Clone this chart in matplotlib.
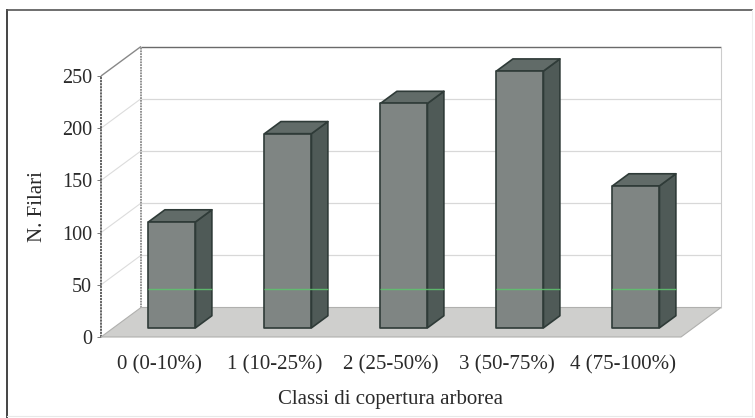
import matplotlib
matplotlib.use("Agg")
import matplotlib.pyplot as plt
from matplotlib.lines import Line2D

categories = ["0 (0-10%)", "1 (10-25%)", "2 (25-50%)", "3 (50-75%)", "4 (75-100%)"]
values = [101.5, 186, 215, 246, 136]
y_ticks = [0, 50, 100, 150, 200, 250]
x_title = "Classi di copertura arborea"
y_title = "N. Filari"

W, H = 755, 418
plt.rcParams["font.family"] = "Liberation Serif"
fig = plt.figure(figsize=(W / 100, H / 100), dpi=100, facecolor="white")
ax = fig.add_axes([101 / W, 1 - 337 / H, 580 / W, 261 / H])
ax.set_xlim(0, len(categories))
ax.set_ylim(0, 250)
ax.patch.set_visible(False)
for s in ax.spines.values():
    s.set_visible(False)

DX, DY = 40 / 116, 29.5 / 1.044   # oblique depth vector, in data units
n = len(categories)


def p(x, y, d=0.0):
    return x + d * DX, y + d * DY


def poly(pts, **kw):
    xs, ys = zip(*pts)
    ax.fill(xs, ys, clip_on=False, **kw)


def line(a, b, **kw):
    ax.plot([a[0], b[0]], [a[1], b[1]], clip_on=False, solid_capstyle="butt", **kw)


# walls and gridlines
for v in y_ticks[1:-1]:
    line(p(0, v), p(0, v, 1), color="#dcdcdc", lw=0.8, zorder=1)
    line(p(0, v, 1), p(n, v, 1), color="#d8d8d8", lw=0.9, zorder=1)
line(p(0, 250), p(0, 250, 1), color="#888888", lw=1.0, zorder=2)
line(p(0, 250, 1), p(n, 250, 1), color="#6a6a6a", lw=1.0, zorder=2)
line(p(n, 0, 1), p(n, 250, 1), color="#cccccc", lw=0.8, zorder=2)
line(p(0, 0), p(0, 250), color="#555555", lw=1.3, ls=(0, (1.2, 0.5)), zorder=2)
line(p(0, 0, 1), p(0, 250, 1), color="#777777", lw=1.1, ls=(0, (1.2, 0.6)), zorder=2)

# floor
poly([p(0, 0), p(n, 0), p(n, 0, 1), p(0, 0, 1)], facecolor="#cfcfcd",
     edgecolor="#b0b0ae", lw=0.8, zorder=3)

# bars
WIDTH = 47 / 116
D0, D1 = 0.31, 0.72
EDGE = "#2f3b38"
for i, v in enumerate(values):
    l = i + 0.5 - WIDTH / 2 + 0.005
    r = l + WIDTH
    kw = dict(edgecolor=EDGE, lw=1.2, zorder=4, joinstyle="round")
    poly([p(r, 0, D0), p(r, 0, D1), p(r, v, D1), p(r, v, D0)], facecolor="#4f5a57", **kw)
    poly([p(l, v, D0), p(r, v, D0), p(r, v, D1), p(l, v, D1)], facecolor="#616b68", **kw)
    poly([p(l, 0, D0), p(r, 0, D0), p(r, v, D0), p(l, v, D0)], facecolor="#7f8583", **kw)

# faint green scan streak crossing the bars
STREAK = 46
for i in range(n):
    l = i + 0.5 - WIDTH / 2 + 0.005
    r = l + WIDTH
    line((l + D0 * DX, STREAK), (r + D1 * DX, STREAK), color="#5fc06e", lw=1.0,
         alpha=0.9, zorder=5)

# axes text
ax.set_yticks(y_ticks)
ax.set_xticks([i + 0.5 for i in range(n)])
ax.set_xticklabels(categories, fontsize=15, color="#2a2a2a")
ax.tick_params(axis="x", length=0, pad=13)
ax.tick_params(axis="y", length=3, width=0.7, color="#777777", pad=3.5,
               labelsize=14.5, labelcolor="#2a2a2a")
ax.set_xlabel(x_title, fontsize=15, color="#2a2a2a", labelpad=11)
ax.set_ylabel(y_title, fontsize=15, color="#2a2a2a", labelpad=10.5)

# outer frame
fx = lambda px: px / W
fy = lambda py: 1 - py / H
fig.add_artist(Line2D([fx(7), fx(7)], [fy(10), fy(417)], color="#444444", lw=1.4))
fig.add_artist(Line2D([fx(7), fx(752)], [fy(10), fy(10)], color="#555555", lw=1.2))
fig.add_artist(Line2D([fx(752), fx(752)], [fy(10), fy(416)], color="#eeeeee", lw=0.8))
fig.add_artist(Line2D([fx(7), fx(752)], [fy(416), fy(416)], color="#e8e8e8", lw=0.8))

fig.savefig("out.png", dpi=100)
